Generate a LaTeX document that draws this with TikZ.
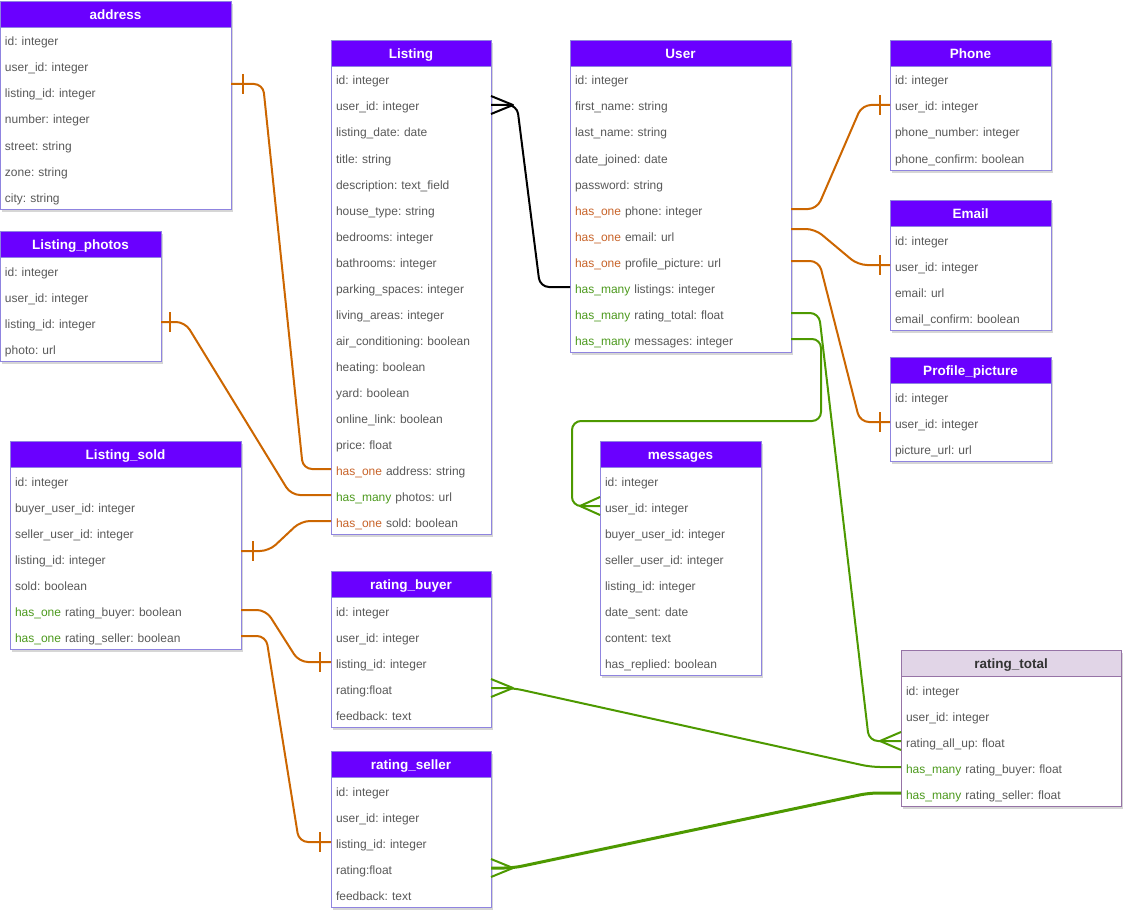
\documentclass[tikz,border=0pt]{standalone}
\usepackage{fontspec}
\setmainfont{Liberation Sans}
\usetikzlibrary{calc,backgrounds}
\frenchspacing

\definecolor{headfill}{HTML}{6A00FF}
\definecolor{framecol}{HTML}{8F84E0}
\definecolor{fieldtxt}{HTML}{595959}
\definecolor{oneline}{HTML}{CC6600}
\definecolor{manyline}{HTML}{4D9900}
\definecolor{onetxt}{HTML}{C8642A}
\definecolor{manytxt}{HTML}{4D9A1E}
\definecolor{lilac}{HTML}{E1D5E7}
\definecolor{lilacline}{HTML}{9673A6}

\newcommand{\hone}[1]{\textcolor{onetxt}{#1}}
\newcommand{\hmany}[1]{\textcolor{manytxt}{#1}}

\tikzset{
  hdr/.style={rectangle, fill=headfill, text=white,
    font=\fontsize{13.5}{15}\selectfont\bfseries, minimum height=26pt,
    inner sep=0pt, outer sep=0pt, anchor=north west,
    text height=11pt, text depth=0pt},
  fld/.style={rectangle, text=fieldtxt, font=\fontsize{12}{14}\selectfont,
    minimum height=26pt, inner xsep=5pt, inner ysep=0pt, outer sep=0pt,
    align=left, anchor=north west, text height=14.6pt, text depth=2.6pt},
  frm/.style={draw=framecol, line width=0.9pt},
  shd/.style={fill=black, opacity=0.16},
  light/.style={hdr/.append style={fill=lilac, text=black!80},
    frm/.append style={draw=lilacline}},
  rel/.style={line width=2pt, rounded corners=9pt},
  onerel/.style={rel, draw=oneline},
  manyrel/.style={rel, draw=manyline},
  userrel/.style={rel, draw=black},
}

% table: [style] name, x, y (top), width, title, fields
\newcommand{\erd}[7][]{%
  \begin{scope}[#1]
    \pgfmathsetmacro\erdtw{#5-10}
    \node[hdr, minimum width=#5pt] (#2) at (#3,#4) {#6};
    \foreach \r [count=\i] in {#7} {
      \node[fld, minimum width=#5pt, text width=\erdtw pt] (#2-\i) at (#3,{#4+26*\i}) {\r};
      \xdef\erdrows{\i}
    }
    \begin{scope}[on background layer]
      \fill[shd] ({#3+2},{#4+3}) rectangle ++(#5,{26*(\erdrows+1)});
      \fill[white] (#3,#4) rectangle ++(#5,{26*(\erdrows+1)});
    \end{scope}
    \draw[frm] (#2.north west) rectangle (#2-\erdrows.south east);
    \draw[frm] (#2.south west) -- (#2.south east);
  \end{scope}}

% cardinality marks
\newcommand{\onebar}[3][oneline]{%
  \draw[draw=#1, line width=2pt] ($(#2)+(#3,-10)$) -- ($(#2)+(#3,10)$);}
\newcommand{\crowfoot}[3][manyline]{%
  \draw[draw=#1, line width=2pt, line join=round]
    ($(#2)+(0,-9)$) -- ($(#2)+(#3,0)$) -- ($(#2)+(0,9)$);}

\begin{document}
\begin{tikzpicture}[x=1pt, y=-1pt]
  \useasboundingbox (0,0) rectangle (1132,923);

  \erd{address}{0}{1}{231}{address}{id: integer, user\_id: integer,
    listing\_id: integer, number: integer, street: string, zone: string,
    city: string}
  \erd{photos}{0}{231}{161}{Listing\_photos}{id: integer, user\_id: integer,
    listing\_id: integer, photo: url}
  \erd{sold}{10}{441}{231}{Listing\_sold}{id: integer,
    buyer\_user\_id: integer, seller\_user\_id: integer, listing\_id: integer,
    sold: boolean, \hmany{has\_one} rating\_buyer: boolean,
    \hmany{has\_one} rating\_seller: boolean}
  \erd{listing}{331}{40}{160}{Listing}{id: integer, user\_id: integer,
    listing\_date: date, title: string, description: text\_field,
    house\_type: string, bedrooms: integer, bathrooms: integer,
    parking\_spaces: integer, living\_areas: integer,
    air\_conditioning: boolean, heating: boolean, yard: boolean,
    online\_link: boolean, price: float, \hone{has\_one} address: string,
    \hmany{has\_many} photos: url, \hone{has\_one} sold: boolean}
  \erd{rbuyer}{331}{571}{160}{rating\_buyer}{id: integer, user\_id: integer,
    listing\_id: integer, rating:float, feedback: text}
  \erd{rseller}{331}{751}{160}{rating\_seller}{id: integer, user\_id: integer,
    listing\_id: integer, rating:float, feedback: text}
  \erd{user}{570}{40}{221}{User}{id: integer, first\_name: string,
    last\_name: string, date\_joined: date, password: string,
    \hone{has\_one} phone: integer, \hone{has\_one} email: url,
    \hone{has\_one} profile\_picture: url, \hmany{has\_many} listings: integer,
    \hmany{has\_many} rating\_total: float, \hmany{has\_many} messages: integer}
  \erd{messages}{600}{441}{161}{messages}{id: integer, user\_id: integer,
    buyer\_user\_id: integer, seller\_user\_id: integer, listing\_id: integer,
    date\_sent: date, content: text, has\_replied: boolean}
  \erd{phone}{890}{40}{161}{Phone}{id: integer, user\_id: integer,
    phone\_number: integer, phone\_confirm: boolean}
  \erd{email}{890}{200}{161}{Email}{id: integer, user\_id: integer,
    email: url, email\_confirm: boolean}
  \erd{picture}{890}{357}{161}{Profile\_picture}{id: integer,
    user\_id: integer, picture\_url: url}
  \erd[light]{rtotal}{901}{650}{220}{rating\_total}{id: integer,
    user\_id: integer, rating\_all\_up: float,
    \hmany{has\_many} rating\_buyer: float,
    \hmany{has\_many} rating\_seller: float}

  % listing side
  \draw[onerel] ([yshift=8pt]address-3.east) -- ++(32,0)
    -- ([xshift=-28pt]listing-16.west) -- (listing-16.west);
  \onebar{[yshift=8pt]address-3.east}{12}
  \draw[onerel] (photos-3.east) -- ++(24,0)
    -- ([xshift=-40pt]listing-17.west) -- (listing-17.west);
  \onebar{photos-3.east}{9}
  \draw[onerel] ([yshift=7pt]sold-4.east) -- ++(28,0)
    -- ([xshift=-30pt]listing-18.west) -- (listing-18.west);
  \onebar{[yshift=7pt]sold-4.east}{12}
  \draw[onerel] (sold-6.east) -- ++(25,0)
    -- ([xshift=-32pt]rbuyer-3.west) -- (rbuyer-3.west);
  \onebar{rbuyer-3.west}{-11}
  \draw[onerel] (sold-7.east) -- ++(25,0)
    -- ([xshift=-32pt]rseller-3.west) -- (rseller-3.west);
  \onebar{rseller-3.west}{-11}

  % user side
  \draw[userrel] (listing-2.east) -- ++(26,0)
    -- ([xshift=-30pt]user-9.west) -- (user-9.west);
  \crowfoot[black]{listing-2.east}{22}
  \draw[onerel] (user-6.east) -- ++(26,0)
    -- ([xshift=-28pt]phone-2.west) -- (phone-2.west);
  \onebar{phone-2.west}{-10}
  \draw[onerel] ([yshift=6pt]user-7.east) -- ++(24,0)
    -- ([xshift=-32pt]email-2.west) -- (email-2.west);
  \onebar{email-2.west}{-10}
  \draw[onerel] (user-8.east) -- ++(28,0)
    -- ([xshift=-30pt]picture-2.west) -- (picture-2.west);
  \onebar{picture-2.west}{-10}
  \draw[manyrel] (user-10.east) -- ++(28,0)
    -- ([xshift=-32pt]rtotal-3.west) -- (rtotal-3.west);
  \crowfoot{rtotal-3.west}{-21}
  \draw[manyrel] (user-11.east) -- ++(30,0)
    |- ($(messages-2.west)+(-28,-85)$) |- (messages-2.west);
  \crowfoot{messages-2.west}{-20}

  % ratings
  \draw[manyrel] (rbuyer-4.east) -- ++(22,0)
    -- ([xshift=-30pt]rtotal-4.west) -- (rtotal-4.west);
  \crowfoot{rbuyer-4.east}{22}
  \draw[manyrel, line width=3pt] (rseller-4.east) -- ++(22,0)
    -- ([xshift=-32pt]rtotal-5.west) -- (rtotal-5.west);
  \crowfoot{rseller-4.east}{22}
\end{tikzpicture}
\end{document}
